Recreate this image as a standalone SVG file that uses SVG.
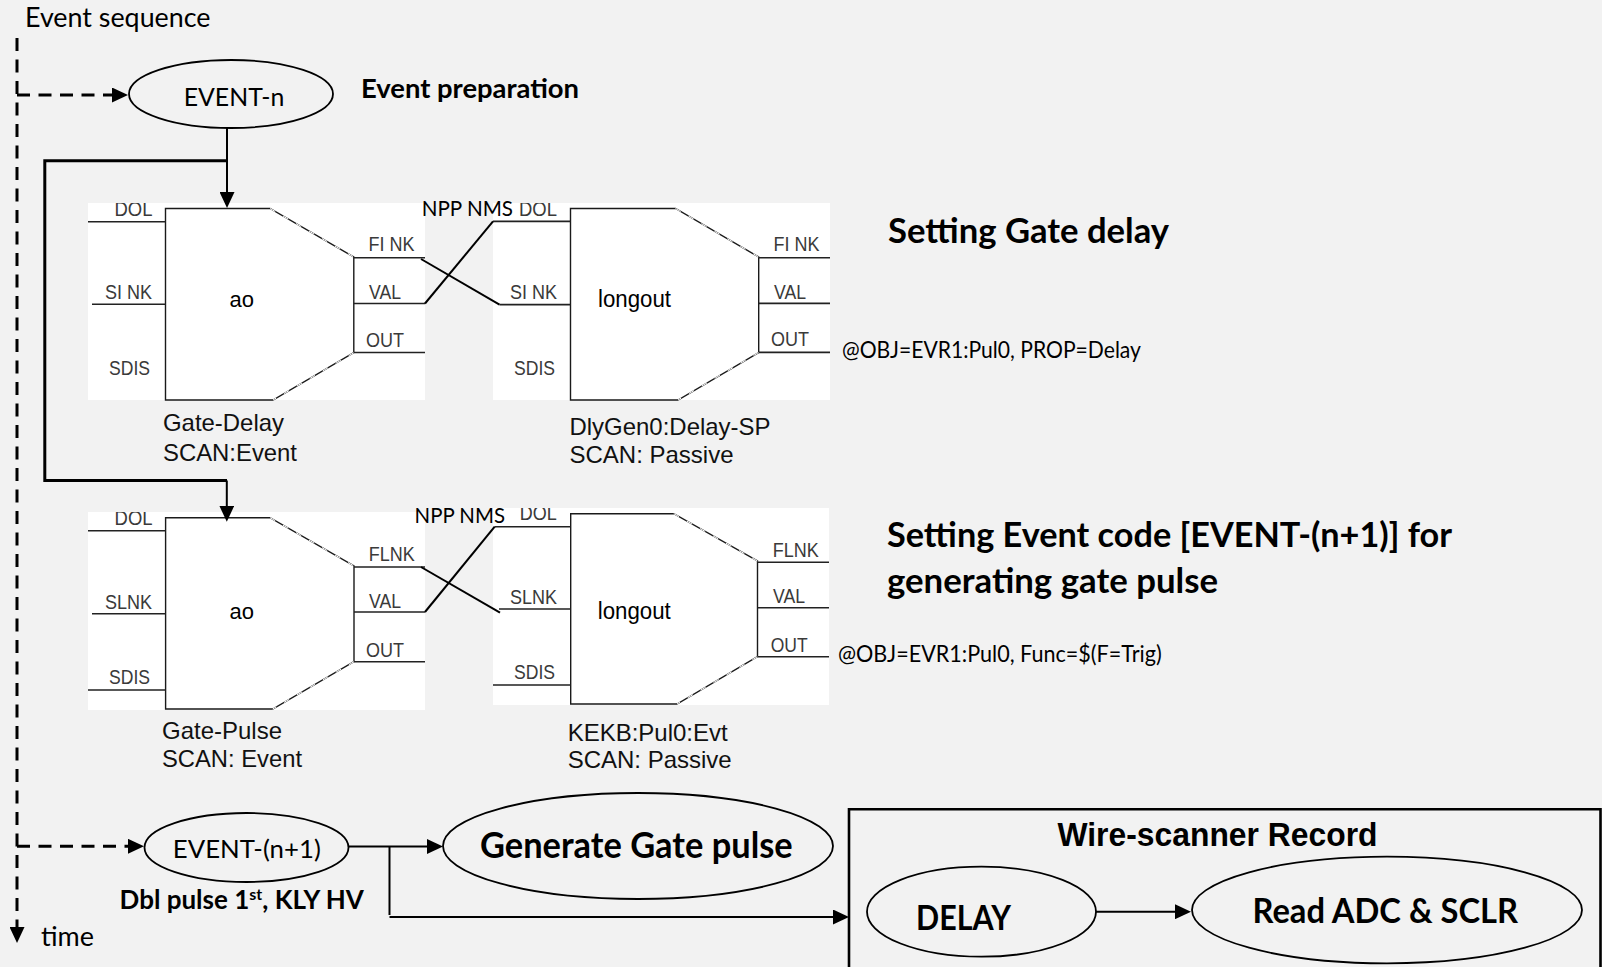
<svg xmlns="http://www.w3.org/2000/svg" width="1602" height="967" viewBox="0 0 1602 967">
<style>
text{fill:#000;white-space:pre}
.lt{font-family:"Lato","Carlito","Open Sans",sans-serif}
.b{font-weight:700}
.ar{font-family:"Liberation Sans",Arial,sans-serif}
.pin{font-family:"Liberation Sans",Arial,sans-serif;font-size:19.5px;fill:#3a3a3a}
.cap{font-family:"Liberation Sans",Arial,sans-serif;font-size:24px;fill:#111}
.w{fill:#fff}
.box{fill:#fff;stroke:#1a1a1a;stroke-width:1.4}
.diag{fill:none;stroke:#fff;stroke-width:1;stroke-dasharray:6 9}
.lead{fill:none;stroke:#222;stroke-width:1.6}
.oval{fill:#f2f2f2;stroke:#000;stroke-width:1.8}
.c{fill:none;stroke:#000;stroke-width:2}
.th{fill:none;stroke:#000;stroke-width:3}
.dash{fill:none;stroke:#000;stroke-width:3;stroke-dasharray:13 8.5}
</style>
<defs>
<marker id="ah" markerUnits="userSpaceOnUse" markerWidth="16" markerHeight="15" refX="8" refY="7.5" orient="auto"><path d="M0,0L16,7.5L0,15Z" fill="#000"/></marker>
<clipPath id="cTop1"><rect x="80" y="203" width="760" height="210"/></clipPath>
<clipPath id="cTop2a"><rect x="80" y="512" width="350" height="210"/></clipPath>
<clipPath id="cTop2b"><rect x="490" y="508" width="350" height="210"/></clipPath>
</defs>
<rect id="background" width="1602" height="967" fill="#f2f2f2"/>

<g id="record-ao-delay">
<rect class="w" x="88" y="203" width="337" height="197"/>
<path class="box" d="M165.5,208.5H270L353.8,257V352.7L273,400H165.5Z"/>
<path class="diag" d="M270,208.5L353.8,257M353.8,352.7L273,400"/>
<path class="lead" d="M88,221.7H165.5M92,304.3H165.5M353.8,257.7H425M353.8,303.5H425M353.8,352.5H425"/>
<text class="pin" clip-path="url(#cTop1)" x="114.5" y="216" textLength="38" lengthAdjust="spacingAndGlyphs">DOL</text>
<text class="pin" x="105" y="299" textLength="47" lengthAdjust="spacingAndGlyphs">SI NK</text>
<text class="pin" x="109" y="375" textLength="41" lengthAdjust="spacingAndGlyphs">SDIS</text>
<text class="pin" x="368.5" y="250.7" textLength="46" lengthAdjust="spacingAndGlyphs">FI NK</text>
<text class="pin" x="369" y="299" textLength="32" lengthAdjust="spacingAndGlyphs">VAL</text>
<text class="pin" x="366" y="346.7" textLength="38" lengthAdjust="spacingAndGlyphs">OUT</text>
<text class="ar" x="229.5" y="307" font-size="22">ao</text>
<text class="cap" x="163" y="431" textLength="121" lengthAdjust="spacingAndGlyphs">Gate-Delay</text>
<text class="cap" x="163" y="460.7" textLength="134" lengthAdjust="spacingAndGlyphs">SCAN:Event</text>
</g>

<g id="record-longout-delay">
<rect class="w" x="493" y="203" width="337" height="197"/>
<path class="box" d="M570.5,208.5H675.5L758.7,257V352.5L678,400H570.5Z"/>
<path class="diag" d="M675.5,208.5L758.7,257M758.7,352.5L678,400"/>
<path class="lead" d="M493,221.4H570.5M499.5,304.6H570.5M758.7,257.7H830M758.7,303.4H830M758.7,352.4H830"/>
<text class="pin" clip-path="url(#cTop1)" x="519" y="216" textLength="38" lengthAdjust="spacingAndGlyphs">DOL</text>
<text class="pin" x="510" y="299" textLength="47" lengthAdjust="spacingAndGlyphs">SI NK</text>
<text class="pin" x="514" y="375" textLength="41" lengthAdjust="spacingAndGlyphs">SDIS</text>
<text class="pin" x="773.5" y="251" textLength="46" lengthAdjust="spacingAndGlyphs">FI NK</text>
<text class="pin" x="774" y="298.7" textLength="32" lengthAdjust="spacingAndGlyphs">VAL</text>
<text class="pin" x="771" y="346" textLength="38" lengthAdjust="spacingAndGlyphs">OUT</text>
<text class="ar" x="598" y="307" font-size="23" textLength="73" lengthAdjust="spacingAndGlyphs">longout</text>
<text class="cap" x="569.5" y="435" textLength="201" lengthAdjust="spacingAndGlyphs">DlyGen0:Delay-SP</text>
<text class="cap" x="569.5" y="463.3" textLength="164" lengthAdjust="spacingAndGlyphs">SCAN: Passive</text>
</g>

<g id="record-ao-pulse">
<rect class="w" x="88" y="512" width="337" height="198"/>
<path class="box" d="M165.6,517.7H270L354,566V661.7L272.7,709H165.6Z"/>
<path class="diag" d="M270,517.7L354,566M354,661.7L272.7,709"/>
<path class="lead" d="M88,530.7H165.6M92,613.7H165.6M88,690H165.6M354,567H425M354,612H425M354,661.7H425"/>
<text class="pin" clip-path="url(#cTop2a)" x="114.6" y="524.7" textLength="38" lengthAdjust="spacingAndGlyphs">DOL</text>
<text class="pin" x="105" y="608.7" textLength="47" lengthAdjust="spacingAndGlyphs">SLNK</text>
<text class="pin" x="109" y="684" textLength="41" lengthAdjust="spacingAndGlyphs">SDIS</text>
<text class="pin" x="368.7" y="561" textLength="46" lengthAdjust="spacingAndGlyphs">FLNK</text>
<text class="pin" x="369" y="608" textLength="32" lengthAdjust="spacingAndGlyphs">VAL</text>
<text class="pin" x="366" y="656.7" textLength="38" lengthAdjust="spacingAndGlyphs">OUT</text>
<text class="ar" x="229.5" y="619" font-size="22">ao</text>
<text class="cap" x="162" y="739" textLength="120" lengthAdjust="spacingAndGlyphs">Gate-Pulse</text>
<text class="cap" x="162" y="766.7" textLength="140" lengthAdjust="spacingAndGlyphs">SCAN: Event</text>
</g>

<g id="record-longout-event">
<rect class="w" x="493" y="508" width="336" height="197"/>
<path class="box" d="M570.7,513.7H673.8L757.5,561V656.7L677,704H570.7Z"/>
<path class="diag" d="M673.8,513.7L757.5,561M757.5,656.7L677,704"/>
<path class="lead" d="M494.7,526.7H570.7M499,609H570.7M493,685H570.7M757.5,562.3H829M757.5,607.7H829M757.5,656.7H829"/>
<text class="pin" clip-path="url(#cTop2b)" x="519.7" y="520" textLength="37" lengthAdjust="spacingAndGlyphs">DOL</text>
<text class="pin" x="510" y="604" textLength="47" lengthAdjust="spacingAndGlyphs">SLNK</text>
<text class="pin" x="514" y="679" textLength="41" lengthAdjust="spacingAndGlyphs">SDIS</text>
<text class="pin" x="772.8" y="556.7" textLength="46" lengthAdjust="spacingAndGlyphs">FLNK</text>
<text class="pin" x="773" y="603" textLength="32" lengthAdjust="spacingAndGlyphs">VAL</text>
<text class="pin" x="770.7" y="651.7" textLength="37" lengthAdjust="spacingAndGlyphs">OUT</text>
<text class="ar" x="597.8" y="619" font-size="23" textLength="73" lengthAdjust="spacingAndGlyphs">longout</text>
<text class="cap" x="567.7" y="741" textLength="160" lengthAdjust="spacingAndGlyphs">KEKB:Pul0:Evt</text>
<text class="cap" x="567.7" y="768.3" textLength="164" lengthAdjust="spacingAndGlyphs">SCAN: Passive</text>
</g>

<g id="event-n">
<ellipse class="oval" cx="231" cy="94" rx="102" ry="34"/>
<text class="lt" x="183.7" y="106" font-size="25.5" textLength="100.7" lengthAdjust="spacingAndGlyphs">EVENT-n</text>
</g>
<g id="event-n1">
<ellipse class="oval" cx="246.5" cy="847.5" rx="102" ry="34.5"/>
<text class="lt" x="172.8" y="858.3" font-size="25.5" textLength="148" lengthAdjust="spacingAndGlyphs">EVENT-(n+1)</text>
</g>
<g id="generate-gate-pulse">
<ellipse class="oval" cx="638" cy="846" rx="195" ry="53"/>
<text class="lt b" x="480" y="858" font-size="37" textLength="312.7" lengthAdjust="spacingAndGlyphs">Generate Gate pulse</text>
</g>
<g id="wire-scanner-record">
<path fill="none" stroke="#000" stroke-width="2.6" d="M849,967V809.3H1600.5V967"/>
<text class="ar b" x="1057.5" y="845.7" font-size="32.5" textLength="320" lengthAdjust="spacingAndGlyphs">Wire-scanner Record</text>
</g>
<g id="delay">
<ellipse class="oval" cx="981.5" cy="911.7" rx="114.5" ry="45"/>
<text class="lt b" x="916" y="930" font-size="35" textLength="95" lengthAdjust="spacingAndGlyphs">DELAY</text>
</g>
<g id="read-adc-sclr">
<ellipse class="oval" cx="1387" cy="910" rx="195" ry="53.3"/>
<text class="lt b" x="1252.5" y="923.3" font-size="35" textLength="265.5" lengthAdjust="spacingAndGlyphs">Read ADC &amp; SCLR</text>
</g>

<g id="connectors">
<path class="dash" d="M17,38V935" marker-end="url(#ah)"/>
<path class="dash" d="M17,95H120" marker-end="url(#ah)"/>
<path class="dash" d="M17,846.3H136" marker-end="url(#ah)"/>
<path class="c" d="M227,128V200" marker-end="url(#ah)"/>
<path class="th" d="M227,160.7H44.8V480.5H227"/>
<path class="c" d="M226.8,480.5V513.7" marker-end="url(#ah)"/>
<path class="c" d="M425,303.5L493,221.4"/>
<path class="c" d="M421,259L499.5,304.6"/>
<path class="c" d="M425,612L494.7,526.7"/>
<path class="c" d="M421,567L500,612.7"/>
<path class="c" d="M349,846.5H435" marker-end="url(#ah)"/>
<path class="c" d="M389.5,846.5V915"/>
<path class="c" d="M389.5,917H841" marker-end="url(#ah)"/>
<path class="c" d="M1096,911.7H1183" marker-end="url(#ah)"/>
</g>

<g id="labels">
<text class="lt" x="25" y="27.3" font-size="26" fill="#222" textLength="185.5" lengthAdjust="spacingAndGlyphs">Event sequence</text>
<text class="lt b" x="361" y="98" font-size="27" textLength="218" lengthAdjust="spacingAndGlyphs">Event preparation</text>
<text class="lt" x="421.7" y="216" font-size="22" textLength="91.3" lengthAdjust="spacingAndGlyphs">NPP NMS</text>
<text class="lt" x="414.6" y="522.7" font-size="22" textLength="90.4" lengthAdjust="spacingAndGlyphs">NPP NMS</text>
<text class="lt b" x="888" y="243" font-size="35" textLength="281" lengthAdjust="spacingAndGlyphs">Setting Gate delay</text>
<text class="lt b" x="887" y="546.6" font-size="35" textLength="565" lengthAdjust="spacingAndGlyphs">Setting Event code [EVENT-(n+1)] for</text>
<text class="lt b" x="887" y="592.6" font-size="35" textLength="331" lengthAdjust="spacingAndGlyphs">generating gate pulse</text>
<text class="lt" x="842" y="357.7" font-size="22.5" textLength="299" lengthAdjust="spacingAndGlyphs">@OBJ=EVR1:Pul0, PROP=Delay</text>
<text class="lt" x="838" y="662" font-size="22.5" textLength="323.7" lengthAdjust="spacingAndGlyphs">@OBJ=EVR1:Pul0, Func=$(F=Trig)</text>
<text class="lt b" x="119.6" y="909.3" font-size="26">Dbl pulse 1<tspan font-size="16" dy="-9">st</tspan><tspan dy="9">, KLY HV</tspan></text>
<text class="lt" x="41" y="946" font-size="27" textLength="53" lengthAdjust="spacingAndGlyphs">time</text>
</g>
</svg>
